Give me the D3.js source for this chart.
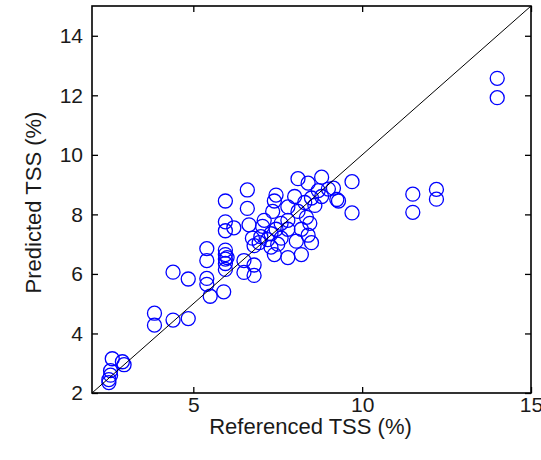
<!DOCTYPE html>
<html>
<head>
<meta charset="utf-8">
<script src="https://cdn.jsdelivr.net/npm/d3@7/dist/d3.min.js"></script>
<style>
html,body{margin:0;padding:0;background:#fff;}
svg{display:block;}
text{font-family:"Liberation Sans",Arial,sans-serif;fill:#1a1a1a;}
</style>
</head>
<body>
<svg id="chart" width="541" height="460"></svg>
<script>
const referenced = [2.5,2.5,2.55,2.55,2.6,2.9,2.95,
  3.85,3.85,4.4,4.85,4.4,4.85,
  5.4,5.4,5.4,5.4,5.5,5.9,
  5.95,5.95,5.95,6.2,5.95,5.95,5.95,5.95,5.95,6.0,
  6.6,6.6,6.65,6.75,6.8,6.5,6.5,6.8,6.8,7.05,7.0,
  7.1,7.2,7.35,7.4,7.45,7.4,7.3,7.3,7.45,7.6,7.8,7.8,7.8,7.8,8.0,8.05,8.1,8.2,8.2,8.3,8.35,8.4,8.4,8.45,8.5,8.6,8.8,8.8,9.0,9.25,9.15,9.3,9.7,9.7,8.5,8.7,8.1,7.6,6.95,7.5,
  11.5,11.5,12.2,12.2,14.0,14.0];
const predicted = [2.35,2.45,2.6,2.75,3.15,3.05,2.95,
  4.68,4.28,4.45,4.5,6.06,5.83,
  6.85,6.45,5.85,5.65,5.25,5.4,
  8.45,7.75,7.45,7.55,6.8,6.65,6.5,6.35,6.15,6.55,
  8.82,8.2,7.65,7.2,6.95,6.45,6.05,5.95,6.3,7.6,7.25,
  7.8,7.15,8.1,8.45,8.65,6.65,6.9,7.35,7.5,7.2,8.25,7.5,7.8,6.55,8.6,7.1,9.2,6.65,7.5,8.4,7.9,9.05,7.3,7.7,8.55,8.3,9.25,8.6,8.85,8.5,8.88,8.45,9.1,8.05,7.05,8.8,8.1,7.7,7.05,7.0,
  8.68,8.07,8.84,8.51,12.57,11.92];
const xTicks = [5,10,15];
const yTicks = [2,4,6,8,10,12,14];
const xDomain = [2,15];
const yDomain = [2,15];
const xLabel = "Referenced TSS (%)";
const yLabel = "Predicted TSS (%)";

const svg = d3.select("#chart");
const L=92, R=531, T=6, B=393;
const x = d3.scaleLinear().domain(xDomain).range([L,R]);
const y = d3.scaleLinear().domain(yDomain).range([B,T]);

svg.append("defs").append("clipPath").attr("id","clip")
  .append("rect").attr("x",L).attr("y",T).attr("width",R-L).attr("height",B-T);

const plot = svg.append("g").attr("clip-path","url(#clip)");
const pts = referenced.map((v,i)=>({x:v,y:predicted[i]}));
plot.selectAll("circle").data(pts).enter().append("circle")
  .attr("cx",d=>x(d.x)).attr("cy",d=>y(d.y)).attr("r",7)
  .attr("fill","none").attr("stroke","#0000ff").attr("stroke-width",1.3);

const line = d3.line().x(d=>x(d)).y(d=>y(d));
plot.append("path").datum([2,15]).attr("d",line)
  .attr("stroke","#000").attr("stroke-width",1).attr("fill","none");

// axes (MATLAB style: inward ticks on all sides)
const fs = 21;
const xb = svg.append("g").attr("transform",`translate(0,${B})`)
  .call(d3.axisBottom(x).tickValues(xTicks).tickSizeInner(-6).tickSizeOuter(0).tickPadding(4).tickFormat(d3.format("d")));
const xt = svg.append("g").attr("transform",`translate(0,${T})`)
  .call(d3.axisTop(x).tickValues(xTicks).tickSizeInner(-6).tickSizeOuter(0).tickFormat(""));
const yl = svg.append("g").attr("transform",`translate(${L},0)`)
  .call(d3.axisLeft(y).tickValues(yTicks).tickSizeInner(-6).tickSizeOuter(0).tickPadding(9).tickFormat(d3.format("d")));
const yr = svg.append("g").attr("transform",`translate(${R},0)`)
  .call(d3.axisRight(y).tickValues(yTicks).tickSizeInner(-6).tickSizeOuter(0).tickFormat(""));
[xb,xt,yl,yr].forEach(g=>{
  g.select(".domain").remove();
  g.selectAll(".tick line").attr("stroke","#000").attr("stroke-width",1.3);
  g.selectAll("text").attr("font-size",fs).attr("font-family","'Liberation Sans',Arial,sans-serif").attr("fill","#1a1a1a");
});
svg.append("rect").attr("x",L).attr("y",T).attr("width",R-L).attr("height",B-T)
  .attr("fill","none").attr("stroke","#000").attr("stroke-width",1.6);

svg.append("text").attr("x",(L+R)/2-1).attr("y",434).attr("text-anchor","middle")
  .attr("font-size",22).text(xLabel);
svg.append("text").attr("transform",`translate(41,${(T+B)/2+3}) rotate(-90)`)
  .attr("text-anchor","middle").attr("font-size",22).text(yLabel);
</script>
</body>
</html>
